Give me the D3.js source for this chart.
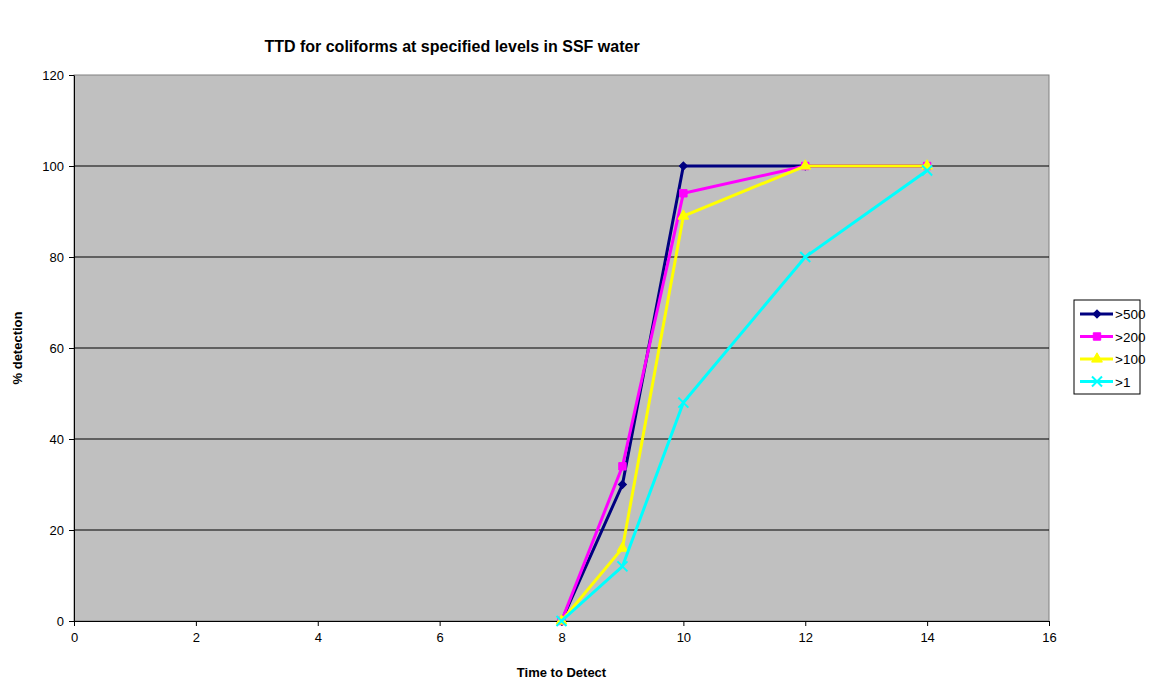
<!DOCTYPE html>
<html>
<head>
<meta charset="utf-8">
<script src="https://cdn.jsdelivr.net/npm/d3@7"></script>
<style>
body { margin: 0; background: #fff; }
text { font-family: "Liberation Sans", Arial, sans-serif; }
</style>
</head>
<body>
<div class="canvas"></div>
<script>
// data
var times = [8, 9, 10, 12, 14];
var seriesNames = [">500", ">200", ">100", ">1"];
var s500 = [0, 30, 100, 100, 100];
var s200 = [0, 34, 94, 100, 100];
var s100 = [0, 16, 89, 100, 100];
var s1 = [0, 12, 48, 80, 99];
var xTicks = [0, 2, 4, 6, 8, 10, 12, 14, 16];
var yTicks = [0, 20, 40, 60, 80, 100, 120];

var colors = ["#000080", "#FF00FF", "#FFFF00", "#00FFFF"];
var symbols = ["diamond", d3.symbolSquare, d3.symbolTriangle, "x"];
var seriesVals = [s500, s200, s100, s1];

var W = 1159, H = 681;
var svg = d3.select(".canvas").append("svg").attr("width", W).attr("height", H);

var plotL = 74, plotR = 1049, plotT = 75, plotB = 621;
var scaleX = d3.scaleLinear().domain([0, 16]).range([plotL, plotR]);
var scaleY = d3.scaleLinear().domain([0, 120]).range([plotB, plotT]);

svg.append("text").attr("x", 452).attr("y", 52).attr("text-anchor", "middle")
  .style("font-size", "16px").style("font-weight", "bold").text("TTD for coliforms at specified levels in SSF water");

svg.append("rect").attr("x", plotL).attr("y", plotT).attr("width", plotR-plotL).attr("height", plotB-plotT)
  .attr("fill", "#C0C0C0").attr("stroke", "#808080").attr("stroke-width", 1);

// gridlines
svg.append("g").selectAll("line").data(yTicks.filter(function(d) { return d > 0 && d < 120; }))
  .enter().append("line")
  .attr("x1", plotL).attr("x2", plotR)
  .attr("y1", function(d) { return scaleY(d); }).attr("y2", function(d) { return scaleY(d); })
  .attr("stroke", "#000").attr("stroke-width", 1);

var xAxis = d3.axisBottom(scaleX).tickValues(xTicks).tickSize(5).tickPadding(7).tickSizeOuter(0);
var yAxis = d3.axisLeft(scaleY).tickValues(yTicks).tickSize(5).tickPadding(5).tickSizeOuter(0);

var gx = svg.append("g").attr("transform", "translate(0," + plotB + ")").call(xAxis);
var gy = svg.append("g").attr("transform", "translate(" + plotL + ",0)").call(yAxis);
[gx, gy].forEach(function(g) {
  g.selectAll("text").style("font-size", "13px").attr("fill", "#000").style("font-family", "Liberation Sans, Arial, sans-serif");
  g.selectAll("line").attr("stroke", "#000");
  g.select(".domain").attr("stroke", "#000");
});

svg.append("text").attr("x", (plotL+plotR)/2).attr("y", 677).attr("text-anchor", "middle")
  .style("font-size", "13px").style("font-weight", "bold").text("Time to Detect");
svg.append("text").attr("transform", "translate(22," + ((plotT+plotB)/2) + ") rotate(-90)")
  .attr("text-anchor", "middle").style("font-size", "13px").style("font-weight", "bold").text("% detection");

var line = d3.line().x(function(d) { return scaleX(d.t); }).y(function(d) { return scaleY(d.v); });

function drawMarker(g, i, x, y) {
  if (symbols[i] === "x") {
    g.append("path").attr("d", "M" + (x-5) + "," + (y-5) + "L" + (x+5) + "," + (y+5) + "M" + (x+5) + "," + (y-5) + "L" + (x-5) + "," + (y+5))
      .attr("stroke", colors[i]).attr("stroke-width", 2).attr("fill", "none");
  } else if (symbols[i] === "diamond") {
    g.append("path").attr("d", d3.symbol().type(d3.symbolSquare).size(32)())
      .attr("transform", "translate(" + x + "," + y + ") rotate(45)")
      .attr("fill", colors[i]).attr("stroke", colors[i]);
  } else {
    var size = symbols[i] === d3.symbolSquare ? 55 : 50;
    g.append("path").attr("d", d3.symbol().type(symbols[i]).size(size)())
      .attr("transform", "translate(" + x + "," + y + ")")
      .attr("fill", colors[i]).attr("stroke", colors[i]);
  }
}

seriesVals.forEach(function(vals, i) {
  var pts = times.map(function(t, j) { return {t: t, v: vals[j]}; });
  var g = svg.append("g");
  g.append("path").datum(pts).attr("d", line).attr("fill", "none")
    .attr("stroke", colors[i]).attr("stroke-width", 3).attr("stroke-linejoin", "miter");
  pts.forEach(function(p) { drawMarker(g, i, scaleX(p.t), scaleY(p.v)); });
});

// legend
var lg = svg.append("g");
lg.append("rect").attr("x", 1074).attr("y", 300).attr("width", 66).attr("height", 94)
  .attr("fill", "#fff").attr("stroke", "#000").attr("stroke-width", 1);
seriesNames.forEach(function(name, i) {
  var y = 314 + i * 22.5;
  lg.append("line").attr("x1", 1080).attr("x2", 1113).attr("y1", y).attr("y2", y)
    .attr("stroke", colors[i]).attr("stroke-width", 3);
  drawMarker(lg, i, 1097, y);
  lg.append("text").attr("x", 1115).attr("y", y + 5).style("font-size", "13.5px").text(name);
});
</script>
</body>
</html>
